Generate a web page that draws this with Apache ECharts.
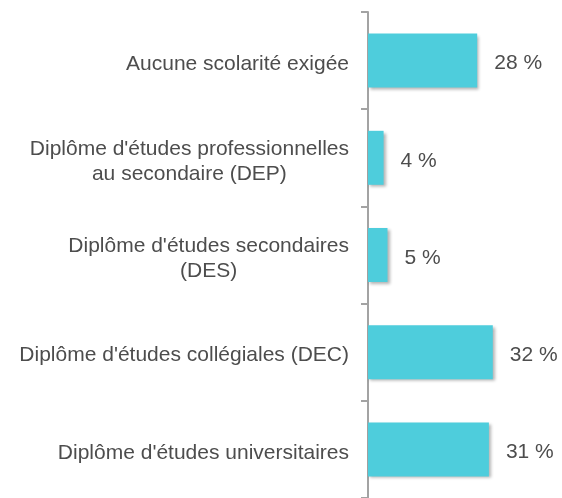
<!DOCTYPE html>
<html>
<head>
<meta charset="utf-8">
<script src="https://cdn.jsdelivr.net/npm/echarts@6/dist/echarts.min.js"></script>
<style>
  html, body { margin: 0; padding: 0; background: #fff; }
  #chart { width: 562px; height: 498px; }
</style>
</head>
<body>
<div id="chart"></div>
<script>
const categories = [
  'Aucune scolarité exigée',
  "Diplôme d'études professionnelles\nau secondaire (DEP)",
  "Diplôme d'études secondaires\n(DES)",
  "Diplôme d'études collégiales (DEC)",
  "Diplôme d'études universitaires",
];
const values = [28, 4, 5, 32, 31];

const chartDom = document.getElementById('chart');
const myChart = echarts.init(chartDom);

const font = "'Liberation Sans', Arial, sans-serif";
const textColor = '#4D4D4D';

const option = {
  animation: false,
  grid: {
    left: 368,
    top: 12,
    width: 156,
    height: 488,
  },
  xAxis: {
    type: 'value',
    min: 0,
    max: 40,
    show: false,
  },
  yAxis: {
    type: 'category',
    inverse: true,
    data: categories,
    axisLine: { show: true, lineStyle: { color: '#A3A3A3', width: 2 } },
    axisTick: { show: true, inside: false, length: 7, lineStyle: { color: '#A3A3A3', width: 2 } },
    axisLabel: {
      margin: 19,
      padding: [7, 0, 0, 0],
      color: textColor,
      fontFamily: font,
      fontSize: 21,
      lineHeight: 25,
      formatter: function (val) {
        return val.split('\n').map(s => '{c|' + s + '}').join('\n');
      },
      rich: {
        c: { align: 'center', color: textColor, fontFamily: font, fontSize: 21, lineHeight: 25 },
      },
    },
  },
  series: [
    {
      type: 'bar',
      data: values,
      barWidth: 54,
      itemStyle: {
        color: '#4ECDDC',
        shadowColor: 'rgba(0,0,0,0.3)',
        shadowBlur: 3,
        shadowOffsetX: 2,
        shadowOffsetY: 2,
      },
      label: {
        show: true,
        position: 'right',
        distance: 17,
        offset: [0, 3],
        formatter: '{c} %',
        color: textColor,
        fontFamily: font,
        fontSize: 21,
      },
    },
  ],
};

myChart.setOption(option);
</script>
</body>
</html>
